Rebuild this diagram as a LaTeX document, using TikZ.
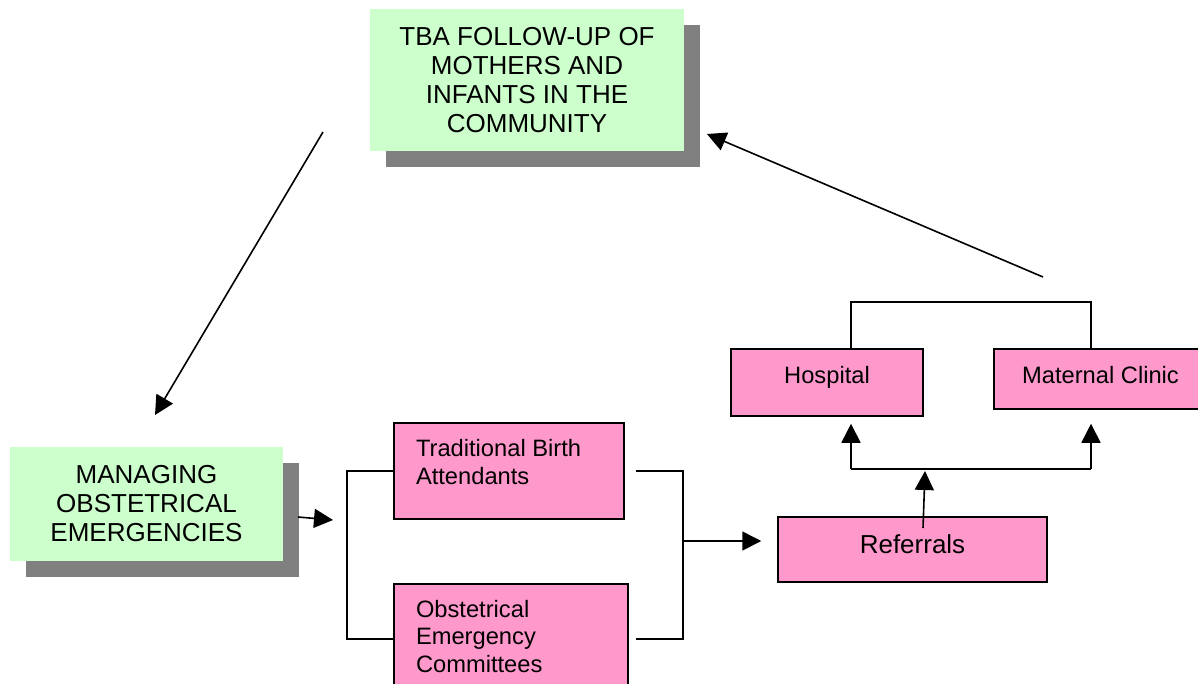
\documentclass[tikz,border=0pt]{standalone}
\usepackage{fontspec}
\setmainfont{Liberation Sans}
\usetikzlibrary{arrows.meta,shadows}
\definecolor{greenfill}{HTML}{CCFFCC}
\definecolor{pinkfill}{HTML}{FF99CC}
\definecolor{shadowgray}{HTML}{808080}
\tikzset{
  greenbox/.style={fill=greenfill, inner sep=0pt, align=center,
    general shadow={fill=shadowgray, shadow xshift=16pt, shadow yshift=-16pt},
    font=\fontsize{26}{29}\selectfont},
  pinkbox/.style={fill=pinkfill, draw=black, line width=1.5pt, inner sep=0pt},
  conn/.style={line width=1.6pt, draw=black},
  arr/.style={conn, -{Triangle[length=19pt,width=19pt]}},
}
\begin{document}
\begin{tikzpicture}[x=1pt,y=-1pt]
\path[use as bounding box] (0,0) rectangle (1198,683);
\clip (0,0) rectangle (1198,683);

% green boxes
\node[greenbox, minimum width=314pt, minimum height=142pt] (tbafollow) at (527,80)
  {TBA FOLLOW-UP OF\\MOTHERS AND\\INFANTS IN THE\\COMMUNITY};
\node[greenbox, minimum width=273pt, minimum height=114pt] (managing) at (146.5,504)
  {MANAGING\\OBSTETRICAL\\EMERGENCIES};

% pink boxes
\node[pinkbox, font=\fontsize{23.7}{28}\selectfont] (tba) at (509,471)
  {\parbox[c][96pt][t]{230pt}{\raggedright\leftskip=22pt\rule{0pt}{33pt}Traditional Birth\\Attendants}};
\node[pinkbox, font=\fontsize{23.7}{27.5}\selectfont] (oec) at (511,639)
  {\parbox[c][110pt][t]{234pt}{\raggedright\leftskip=22pt\rule{0pt}{33pt}Obstetrical\\Emergency\\Committees}};
\node[pinkbox, font=\fontsize{23.7}{28}\selectfont] (hosp) at (827,382.5)
  {\parbox[c][67pt][t]{192pt}{\centering\rule{0pt}{34pt}Hospital}};
\node[pinkbox, font=\fontsize{23.7}{28}\selectfont] (mat) at (1100.5,379)
  {\parbox[c][60pt][t]{213pt}{\centering\rule{0pt}{34pt}Maternal Clinic}};
\node[pinkbox, font=\fontsize{26}{29}\selectfont] (ref) at (912.5,549.5)
  {\parbox[c][65pt][t]{269pt}{\centering\rule{0pt}{36pt}Referrals}};

% coordinates for free ends
\coordinate (dlstart) at (323,132);
\coordinate (dltip) at (155,415);
\coordinate (drstart) at (1043,277);
\coordinate (drtip) at (707,134);
\coordinate (mstart) at (298,517);
\coordinate (mtip) at (333,520);
\coordinate (lbx) at (347,471);
\coordinate (rbtop) at (683,471);
\coordinate (rbbot) at (683,639);
\coordinate (rbmid) at (683,541);
\coordinate (refup) at (923,528);
\coordinate (split) at (925,471);
\coordinate (hl) at (851,469);
\coordinate (hr) at (1091,469);
\coordinate (top) at (851,302);

% diagonal arrows
\draw[arr] (dlstart) -- (dltip);
\draw[arr] (drstart) -- (drtip);
\draw[arr] (mstart) -- (mtip);

% left bracket
\draw[conn] (tba.west) -- (lbx) |- (oec.west);
% right bracket
\draw[conn] ([xshift=11pt]tba.east) -- (rbtop) -- (rbbot) -- ([xshift=7pt]oec.east);
\draw[arr, shorten >=16pt] (rbmid) -- (ref.west |- rbmid);

% referrals up
\draw[arr] (refup) -- (split);
\draw[conn] (hl) -- (hr);
\draw[arr, shorten >=7pt] (hl) -- (hl |- hosp.south);
\draw[arr, shorten >=14pt] (hr) -- (hr |- mat.south);

% top link between hospital and clinic
\draw[conn] (hl |- hosp.north) -- (top) -| (hr |- mat.north);
\end{tikzpicture}
\end{document}
